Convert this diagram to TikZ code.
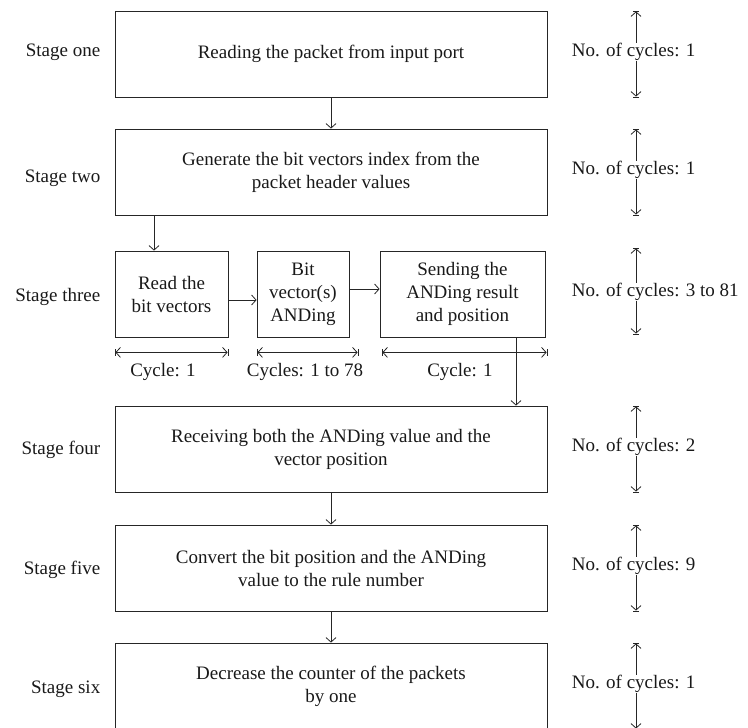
\documentclass[tikz,border=0pt]{standalone}
\usepackage{fontspec}
\setmainfont{Liberation Serif}
\usetikzlibrary{arrows.meta}
\begin{document}
\begin{tikzpicture}[x=1pt,y=-1pt, line width=0.8pt, draw=black!85,
  >={Straight Barb[length=4.5pt,width=10pt]},
  every node/.style={font=\fontsize{19}{23}\selectfont, text=black!90},
  box/.style={draw, align=center, inner sep=0pt, minimum height=86pt},
  big/.style={box, minimum width=432pt},
  stagelbl/.style={anchor=east},
  cyc/.style={fill=white, inner sep=0.5pt, anchor=west}]
\useasboundingbox (0,0) rectangle (748,728);
% main boxes
\node[big] (b1) at (331,54) {Reading the packet from input port};
\node[big] (b2) at (331,172) {Generate the bit vectors index from the\\packet header values};
\node[box, minimum width=113pt] (b3a) at (171.5,294) {Read the\\bit vectors};
\node[box, minimum width=92pt] (b3b) at (303,294) {Bit\\vector(s)\\ANDing};
\node[box, minimum width=165pt] (b3c) at (462.5,294) {Sending the\\ANDing result\\and position};
\node[big] (b4) at (331,449) {Receiving both the ANDing value and the\\vector position};
\node[big] (b5) at (331,568) {Convert the bit position and the ANDing\\value to the rule number};
\node[big] (b6) at (331,686) {Decrease the counter of the packets\\by one};
% stage labels
\node[stagelbl] (s1) at (104,52) {Stage one};
\node[stagelbl] (s2) at (104,178) {Stage two};
\node[stagelbl] (s3) at (104,297) {Stage three};
\node[stagelbl] (s4) at (104,450) {Stage four};
\node[stagelbl] (s5) at (104,570) {Stage five};
\node[stagelbl] (s6) at (104,689) {Stage six};
% flow arrows
\draw[->] (b1.south) -- (b2.north);
\coordinate (c23) at (154,215);
\draw[->] (c23) -- (c23 |- b3a.north);
\draw[->] ([yshift=-6pt]b3a.east) -- ([yshift=-6pt]b3a.east -| b3b.west);
\draw[->] ([yshift=5pt]b3b.east) -- ([yshift=5pt]b3b.east -| b3c.west);
\draw[->] ([xshift=53.5pt]b3c.south) -- ([xshift=53.5pt]b3c.south |- b4.north);
\draw[->] (b4.south) -- (b5.north);
\draw[->] (b5.south) -- (b6.north);
% cycle spans under stage three
\draw[|<->|] ([yshift=-15pt]b3a.south west) -- ([yshift=-15pt]b3a.south east);
\draw[|<->|] ([yshift=-15pt]b3b.south west) -- ([yshift=-15pt,xshift=9pt]b3b.south east);
\draw[|<->|] ([yshift=-15pt,xshift=2pt]b3c.south west) -- ([yshift=-15pt,xshift=2pt]b3c.south east);
\node (k1) at (163,372) {Cycle: 1};
\node (k2) at (305,372) {Cycles: 1 to 78};
\node (k3) at (460,372) {Cycle: 1};
% right side cycle counts
\coordinate (R) at (636,0);
\coordinate (L) at (571,0);
\draw[|<->|] (b1.north -| R) -- (b1.south -| R);
\draw[|<->|] (b2.north -| R) -- (b2.south -| R);
\draw[|<->|] ([yshift=3pt]b3a.north -| R) -- ([yshift=3pt]b3a.south -| R);
\draw[|<->|] (b4.north -| R) -- (b4.south -| R);
\draw[|<->|] (b5.north -| R) -- (b5.south -| R);
\draw[|<->|] (b6.north -| R) -- (b6.south -| R);
\node[cyc] (n1) at ([yshift=2pt]b1.center -| L) {No. of cycles: 1};
\node[cyc] (n2) at ([yshift=2pt]b2.center -| L) {No. of cycles: 1};
\node[cyc] (n3) at ([yshift=2pt]b3a.center -| L) {No. of cycles: 3 to 81};
\node[cyc] (n4) at ([yshift=2pt]b4.center -| L) {No. of cycles: 2};
\node[cyc] (n5) at ([yshift=2pt]b5.center -| L) {No. of cycles: 9};
\node[cyc] (n6) at ([yshift=2pt]b6.center -| L) {No. of cycles: 1};
\end{tikzpicture}
\end{document}
